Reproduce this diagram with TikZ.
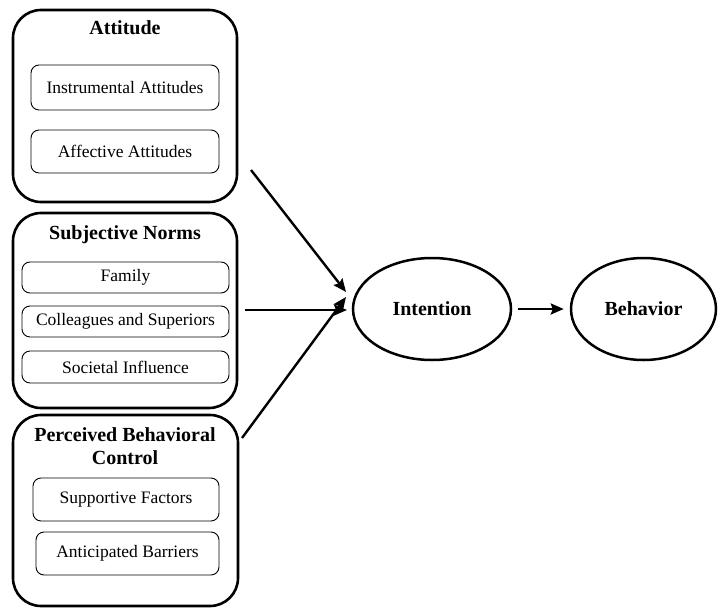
\documentclass[tikz,border=0pt]{standalone}
\usepackage{fontspec}
\setmainfont{Liberation Serif}
\usetikzlibrary{arrows.meta,shapes.geometric}
\begin{document}
\begin{tikzpicture}[x=1pt,y=-1pt,
  outerbox/.style={draw,line width=2.6pt,rounded corners=28pt,inner sep=0pt},
  innerbox/.style={draw,line width=0.9pt,rounded corners=8pt,inner sep=0pt,font=\fontsize{17.5}{20}\selectfont},
  title/.style={font=\fontsize{20}{22}\selectfont\bfseries,align=center,inner sep=0pt},
  oval/.style={draw,ellipse,line width=2.5pt,inner sep=0pt,font=\fontsize{20}{22}\selectfont\bfseries},
  arr/.style={line width=2.4pt,-{Stealth[length=13pt,width=11pt,inset=2pt]}}
]
\useasboundingbox (0,0) rectangle (718,608);
% outer boxes
\node[outerbox,minimum width=224pt,minimum height=192pt] (att) at (125,106) {};
\node[outerbox,minimum width=224pt,minimum height=195pt] (sn) at (125,310.5) {};
\node[outerbox,minimum width=225pt,minimum height=191pt] (pbc) at (125.5,510.5) {};
% titles
\node[title] (attT) at (125,28) {Attitude};
\node[title] (snT) at (125,235) {Subjective Norms};
\node[title] (pbcT) at (125,446) {Perceived Behavioral\\[1pt]Control};
% inner boxes
\node[innerbox,minimum width=188pt,minimum height=45pt] (instr) at (125,87.5) {Instrumental Attitudes};
\node[innerbox,minimum width=188pt,minimum height=43pt] (aff) at (125,151.5) {Affective Attitudes};
\node[innerbox,minimum width=207pt,minimum height=31pt] (fam) at (125.5,277.5) {Family};
\node[innerbox,minimum width=207pt,minimum height=31pt] (col) at (125.5,321.5) {Colleagues and Superiors};
\node[innerbox,minimum width=207pt,minimum height=32pt] (soc) at (125.5,367) {Societal Influence};
\node[innerbox,minimum width=186pt,minimum height=43pt] (sup) at (126,499.5) {Supportive Factors};
\node[innerbox,minimum width=183pt,minimum height=43pt] (ant) at (127.5,553.5) {Anticipated Barriers};
% ellipses
\node[oval,minimum width=158pt,minimum height=102pt] (int) at (432,309) {Intention};
\node[oval,minimum width=145pt,minimum height=102pt] (beh) at (643.5,309) {Behavior};
% arrow ends
\coordinate (a1s) at (251,170);
\coordinate (a1e) at (346,292);
\coordinate (a2s) at (245,310);
\coordinate (a2e) at (347,310);
\coordinate (a3s) at (242,438);
\coordinate (a3e) at (346,297);
\draw[arr] (a1s) -- (a1e);
\draw[arr] (a2s) -- (a2e);
\draw[arr] (a3s) -- (a3e);
\draw[arr,shorten <=6pt,shorten >=6pt] (int.east) -- (beh.west);
\end{tikzpicture}
\end{document}
